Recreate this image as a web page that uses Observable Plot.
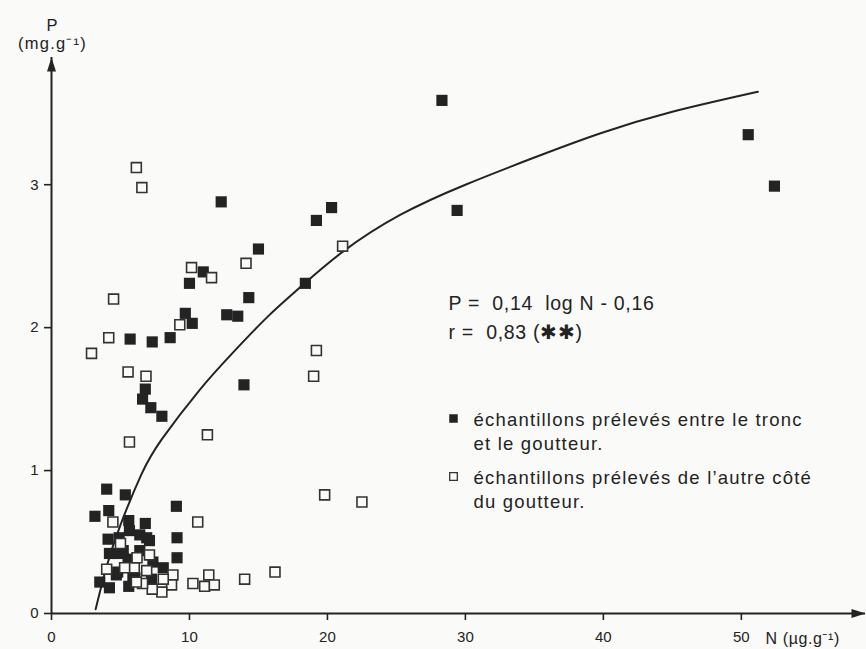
<!DOCTYPE html>
<html><head><meta charset="utf-8">
<script src="https://cdn.jsdelivr.net/npm/d3@7"></script>
<script src="https://cdn.jsdelivr.net/npm/@observablehq/plot@0.6"></script>
<style>
html,body{margin:0;padding:0;background:#fafaf8;}
#chart{width:866px;height:649px;overflow:hidden;}
.eq text{letter-spacing:0.7px;}
.leg text{letter-spacing:1.2px;}
.ttl text{letter-spacing:1.2px;}
.xttl text{letter-spacing:0.6px;}
</style></head><body><div id="chart"></div>
<script>
// Samples taken between the trunk and the dripper (filled squares)
const filledN = [28.3,29.4,50.5,52.4,12.3,20.3,19.2,15.0,18.4,14.3,11.0,10.0,9.7,10.2,12.7,13.5,5.7,7.3,8.6,13.95,6.8,6.6,7.2,8.0,
  4.0,5.35,4.15,3.15,9.05,9.1,9.1,5.6,6.8,4.1,4.2,3.5,4.2,5.6,4.7,6.05,7.25,7.35,8.1,5.2,5.65,6.9,4.9,6.4,7.1,4.8,5.55,4.8,5.9,6.4];
const filledP = [3.59,2.82,3.35,2.99,2.88,2.84,2.75,2.55,2.31,2.21,2.39,2.31,2.10,2.03,2.09,2.08,1.92,1.90,1.93,1.60,1.57,1.50,1.44,1.38,
  0.87,0.83,0.72,0.68,0.75,0.53,0.39,0.65,0.63,0.52,0.42,0.22,0.18,0.19,0.27,0.25,0.24,0.36,0.32,0.44,0.58,0.53,0.53,0.55,0.51,0.42,0.38,0.29,0.26,0.44];
// Samples taken on the other side of the dripper (open squares)
const openN = [6.15,6.55,4.5,4.15,2.9,5.55,6.85,10.15,11.6,14.1,9.3,21.1,19.2,19.0,5.65,11.3,19.8,22.5,16.2,14.0,
  10.6,4.45,4.0,6.0,6.2,7.1,8.8,8.7,8.0,7.3,6.6,10.25,11.1,11.4,11.8,5.0,5.3,6.9,6.15,8.1];
const openP = [3.12,2.98,2.20,1.93,1.82,1.69,1.66,2.42,2.35,2.45,2.02,2.57,1.84,1.66,1.20,1.25,0.83,0.78,0.29,0.24,
  0.64,0.64,0.31,0.32,0.39,0.41,0.27,0.20,0.15,0.17,0.21,0.21,0.19,0.27,0.20,0.49,0.32,0.30,0.22,0.24];
// Regression curve, points
const curveN = [3.2,4,5,6.5,8,10.7,13.1,15.6,18,21.1,25.3,30,35,39.8,45,51.2];
const curveP = [0.03,0.33,0.62,0.97,1.22,1.56,1.82,2.07,2.28,2.53,2.79,3.0,3.19,3.36,3.51,3.65];

const xTicks = [0,10,20,30,40,50];
const yTicks = [0,1,2,3];
const xMax = 59, yMax = 3.89;
const xTitle = "N (µg.g⁻¹)";
const yTitle = "P\n(mg.g⁻¹)";
const equation = "P =  0,14  log N - 0,16\nr =  0,83 (✱✱)";
const legendLabels = ["échantillons prélevés entre le tronc\net le goutteur.", "échantillons prélevés de l’autre côté\ndu goutteur."];

const filled = filledN.map((n,i)=>({N:n,P:filledP[i]}));
const open = openN.map((n,i)=>({N:n,P:openP[i]}));
const curve = curveN.map((n,i)=>({N:n,P:curveP[i]}));
const ink = "#232323";
const arrowHead = {draw(ctx){ctx.moveTo(0,-8);ctx.lineTo(4.5,6);ctx.lineTo(-4.5,6);ctx.closePath();}};

const plot = Plot.plot({
  width: 866, height: 649,
  marginTop: 57, marginRight: 1, marginBottom: 36, marginLeft: 51,
  style: {background: "transparent", fontFamily: "'Liberation Sans', Arial, sans-serif", fontSize: "15px", color: ink},
  x: {domain: [0, xMax]},
  y: {domain: [0, yMax]},
  marks: [
    Plot.axisX({ticks: xTicks, tickSize: 7, tickPadding: 11, strokeWidth: 1.6, label: null, fontSize: 15, tickFormat: d => d}),
    Plot.axisY({ticks: yTicks, tickSize: 7, tickPadding: 6, strokeWidth: 1.6, label: null, fontSize: 15, tickFormat: d => d}),
    Plot.ruleY([0], {stroke: ink, strokeWidth: 2}),
    Plot.ruleX([0], {stroke: ink, strokeWidth: 2}),
    Plot.dot([{N: xMax, P: 0}], {x: "N", y: "P", symbol: arrowHead, rotate: 90, dx: -8, fill: ink, stroke: null}),
    Plot.dot([{N: 0, P: yMax}], {x: "N", y: "P", symbol: arrowHead, dy: 8, fill: ink, stroke: null}),
    Plot.line(curve, {x: "N", y: "P", curve: "natural", stroke: ink, strokeWidth: 2}),
    Plot.dot(filled, {x: "N", y: "P", symbol: "square", r: 6.3, fill: ink, stroke: null}),
    Plot.dot(open, {x: "N", y: "P", symbol: "square", r: 5.6, fill: "#fafaf8", stroke: "#333", strokeWidth: 1.6}),
    Plot.text([yTitle], {frameAnchor: "top-left", dx: 1, dy: -23, text: d => d, textAnchor: "middle", lineAnchor: "middle", lineHeight: 1.1, fontSize: 16.5, fill: ink, className: "ttl"}),
    Plot.text([xTitle], {frameAnchor: "bottom-left", dx: 714, dy: 25, text: d => d, textAnchor: "start", lineAnchor: "middle", fontSize: 16, fill: ink, className: "xttl"}),
    Plot.text([equation], {frameAnchor: "top-left", dx: 397, dy: 258, text: d => d, textAnchor: "start", lineAnchor: "middle", lineHeight: 1.5, fontSize: 19.5, fill: ink, className: "eq"}),
    Plot.text([legendLabels[0]], {frameAnchor: "top-left", dx: 422, dy: 373, text: d => d, textAnchor: "start", lineAnchor: "middle", lineHeight: 1.3, fontSize: 18.5, fill: ink, className: "leg"}),
    Plot.text([legendLabels[1]], {frameAnchor: "top-left", dx: 422, dy: 431, text: d => d, textAnchor: "start", lineAnchor: "middle", lineHeight: 1.3, fontSize: 18.5, fill: ink, className: "leg"}),
    Plot.dot([legendLabels[0]], {frameAnchor: "top-left", dx: 402, dy: 361, symbol: "square", r: 4.8, fill: ink, stroke: null}),
    Plot.dot([legendLabels[1]], {frameAnchor: "top-left", dx: 402, dy: 419, symbol: "square", r: 4.3, fill: "none", stroke: "#333", strokeWidth: 1.3})
  ]
});
document.getElementById("chart").appendChild(plot);
</script></body></html>
